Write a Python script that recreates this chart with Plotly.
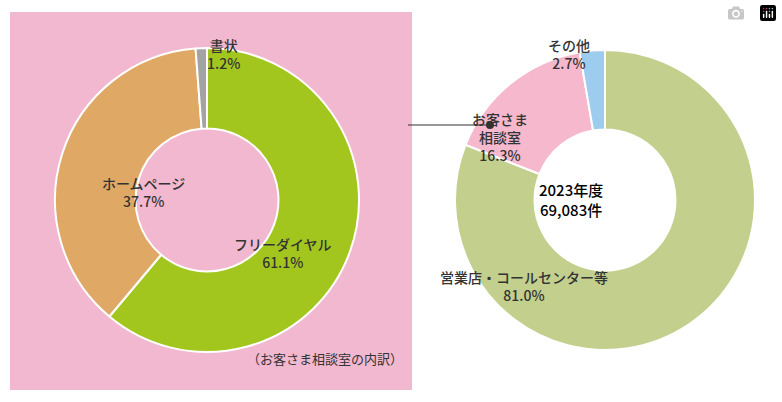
import plotly.graph_objects as go

W, H = 782, 402
left_labels = ["フリーダイヤル", "ホームページ", "書状"]
left_values = [61.1, 37.7, 1.2]
left_colors = ["#a3c61f", "#dfa865", "#a3a3a3"]
right_labels = ["営業店・コールセンター等", "お客さま相談室", "その他"]
right_values = [81.0, 16.3, 2.7]
right_colors = ["#c3cf8d", "#f5b8cc", "#9dccee"]

def px(x): return x / W
def py(y): return 1 - y / H

fig = go.Figure()
fig.add_trace(go.Pie(labels=left_labels, values=left_values, hole=0.47, sort=False,
    direction="clockwise", rotation=0, textinfo="none", hoverinfo="label+percent",
    marker=dict(colors=left_colors, line=dict(color="white", width=2)),
    domain=dict(x=[px(55), px(359)], y=[py(352), py(48)])))
fig.add_trace(go.Pie(labels=right_labels, values=right_values, hole=0.47, sort=False,
    direction="clockwise", rotation=0, textinfo="none", hoverinfo="label+percent",
    marker=dict(colors=right_colors, line=dict(color="white", width=2)),
    domain=dict(x=[px(455), px(755)], y=[py(350), py(50)])))

shapes = [
    dict(type="rect", xref="paper", yref="paper", x0=px(10), x1=px(412), y0=py(390), y1=py(12),
         fillcolor="#f2b8cf", line=dict(width=0), layer="below"),
    dict(type="line", xref="paper", yref="paper", x0=px(408), x1=px(490), y0=py(125), y1=py(125),
         line=dict(color="#333", width=1)),
    dict(type="circle", xref="paper", yref="paper", x0=px(486), x1=px(494), y0=py(129), y1=py(121),
         fillcolor="#333", line=dict(width=0)),
]
f = dict(family="Noto Sans CJK JP", size=14, color="#333", weight=500)
anns = [
    (205, 33, "書状<br>1.2%"),
    (100, 192, "ホームページ<br>37.7%"),
    (283, 274, "フリーダイヤル<br>61.1%"),
    (592, 33, "その他<br>2.7%"),
    (530, 107, "お客さま<br>相談室<br>16.3%"),
    (610, 307, "営業店・コールセンター等<br>81.0%"),
]
annotations = [dict(x=px(x), y=py(y), xref="paper", yref="paper", text=t, showarrow=False,
                    font=f) for x, y, t in anns]
annotations.append(dict(x=px(605), y=py(199), xref="paper", yref="paper", text="2023年度<br>69,083件",
                        showarrow=False, font=dict(family="Noto Sans CJK JP", size=15, color="#000", weight=500)))
annotations.append(dict(x=px(405), y=py(370), xref="paper", yref="paper", xanchor="right",
                        text="（お客さま相談室の内訳）", showarrow=False,
                        font=dict(family="Noto Sans CJK JP", size=13, color="#333")))
fig.update_layout(width=W, height=H, margin=dict(l=0, r=0, t=0, b=0), showlegend=False,
                  paper_bgcolor="white", shapes=shapes, annotations=annotations)
fig.write_html("out.html", post_script="document.body.style.margin='0px';")
